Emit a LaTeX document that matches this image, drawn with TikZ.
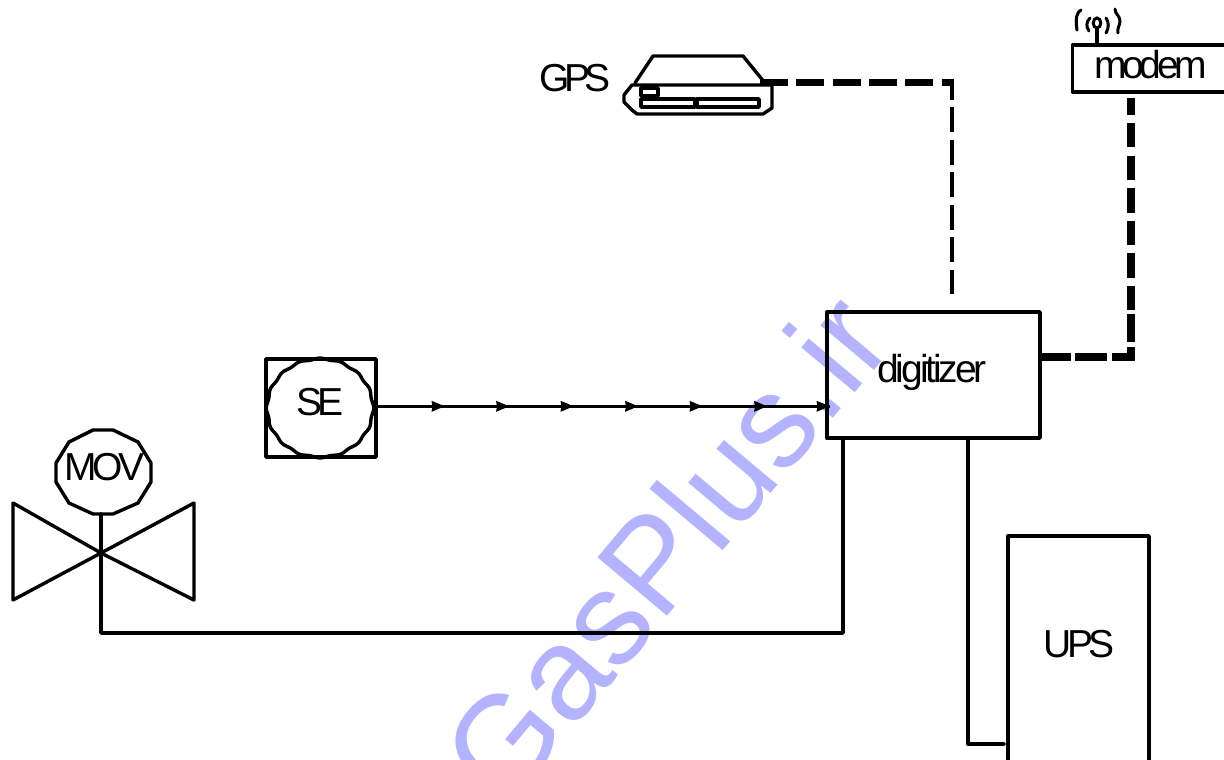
\documentclass[tikz,border=0pt]{standalone}
\usepackage{fontspec}
\setmainfont{Liberation Sans}
\newfontfamily\tightfont[LetterSpace=-11]{Liberation Sans}
\newfontfamily\digifont[LetterSpace=-8]{Liberation Sans}
\newfontfamily\gpsfont[LetterSpace=-14]{Liberation Sans}
\usetikzlibrary{arrows.meta,decorations.markings,shapes.geometric}
\definecolor{wm}{HTML}{B3B3FF}
\tikzset{
  every node/.style={inner sep=0pt,outer sep=0pt},
  lbl/.style={font=\tightfont\fontsize{39}{39}\selectfont},
  wire/.style={line width=3.4pt,line join=round,line cap=round},
  boxn/.style={draw,line width=3.4pt,rectangle,line join=round,fill=none},
  topdash/.style={line width=7pt,dash pattern=on 28pt off 8.3pt},
  thindash/.style={line width=3.4pt,dash pattern=on 25pt off 7.5pt,dash phase=8.5pt},
  rightdash/.style={line width=7.5pt,line join=miter,dash pattern=on 17pt off 8pt on 24pt off 9pt on 24pt off 8pt on 25pt off 8pt on 24pt off 8pt on 25pt off 8pt on 24pt off 4pt on 28pt off 5pt on 29pt off 5pt on 32pt off 4pt on 40pt off 10pt},
  flow/.style={line width=3.2pt,postaction={decorate},decoration={markings,
    mark=at position 69pt with {\arrow{tipk}},
    mark=at position 133.5pt with {\arrow{tipk}},
    mark=at position 198pt with {\arrow{tipk}},
    mark=at position 262.5pt with {\arrow{tipk}},
    mark=at position 327pt with {\arrow{tipk}},
    mark=at position 391.5pt with {\arrow{tipk}},
    mark=at position 454pt with {\arrow{tipk}}}},
  tipk/.tip={Stealth[length=13pt,width=10pt,inset=0.5pt]},
}
\begin{document}
\begin{tikzpicture}[x=1pt,y=-1pt]
\useasboundingbox (0,0) rectangle (1224,760);
\clip (0,0) rectangle (1224,760);
\fill[white] (0,0) rectangle (1224,760);
% watermark
\node[anchor=base west,rotate=50,text=wm,font=\fontsize{132}{132}\selectfont] (wmark) at (505,810) {GasPlus.ir};
% boxes
\node[boxn,minimum width=213pt,minimum height=126pt] (digi) at (933.5,375) {};
\node[lbl,font=\digifont\fontsize{39}{39}\selectfont] (digit) at (932,372) {digitizer};
\node[boxn,minimum width=141pt,minimum height=260pt] (ups) at (1078.5,666) {};
\node[lbl] (upst) at (1079,644) {UPS};
\node[boxn,minimum width=200pt,minimum height=47pt,anchor=north west] (modem) at (1072.5,45) {};
\node[lbl] (modemt) at (1150.5,65) {modem};
\node[lbl,font=\gpsfont\fontsize{39}{39}\selectfont] (gpst) at (575,78) {GPS};
% SE
\node[boxn,minimum width=110pt,minimum height=98pt] (sebox) at (321,408) {};
\draw[wire] plot[smooth,domain=0:360,samples=121] ({320+(53*(1+0.014*cos(16*\x)))*cos(\x)},{408+(49.3*(1+0.014*cos(16*\x)))*sin(\x)});
\node[lbl] (set) at (320,402) {SE};
% MOV
\draw[wire] (93,430) -- (113,430) -- (138,442) -- (151,463) -- (151,482) -- (138,503) -- (113,514) -- (93,514) -- (69,503) -- (56,482) -- (56,463) -- (69,442) -- cycle;
\node[lbl] (movt) at (104.5,467) {MOV};
% valve
\coordinate (vc) at (101,553);
\draw[wire] (vc) -- (13,503) -- (13,600) -- cycle;
\draw[wire] (vc) -- (194,503) -- (194,600) -- cycle;
% GPS server
\coordinate (gpsr) at (760,83);
\draw[wire] (635,83) -- (653,56) -- (743,56) -- (765,83);
\draw[wire] (632,85) -- (772,85) -- (772,108) -- (763,114) -- (637,114) -- (632,110) -- (624,102) -- (624,95) -- cycle;
\draw[wire] (641,88) rectangle (658,96);
\draw[wire] (641,99) rectangle (695,107);
\draw[wire] (697,99) rectangle (759,107);
% antenna
\coordinate (ant) at (1097,45);
\draw[wire] (ant) -- (1097,29);
\draw[line width=3pt] (1097,23) ellipse (3.8pt and 5pt);
\draw[line width=3pt,line cap=round] (1090,18) .. controls (1086,22) and (1086,27) .. (1089,31);
\draw[line width=3pt,line cap=round] (1106,18) .. controls (1109,22) and (1109,28) .. (1106,33);
\draw[line width=3pt,line cap=round] (1081,10) .. controls (1077,12) and (1075,18) .. (1077,30);
\draw[line width=3pt,line cap=round] (1115,9) .. controls (1115,14) and (1120,16) .. (1120,21) .. controls (1120,25) and (1117,28) .. (1118,33);
% connectors
\coordinate (gpsc) at (954,83);
\coordinate (gpsd) at (952,83);
\coordinate (digitop) at (952,294);
\draw[topdash] (gpsr) -- (gpsc);
\draw[thindash] (gpsd) -- (digitop);
\coordinate (modb) at (1131,98);
\coordinate (modc) at (1131,357);
\coordinate (digr) at (1041,357);
\draw[rightdash] (modb) -- (modc) -- (digr);
\coordinate (arrs) at (376,406.3);
\coordinate (arre) at (830,406.3);
\draw[flow] (arrs) -- (arre);
\coordinate (movb) at (101,514);
\coordinate (bend) at (101,633);
\coordinate (dig1) at (843,438);
\coordinate (bend2) at (843,633);
\draw[wire] (movb) -- (bend) -- (bend2) -- (dig1);
\coordinate (dig2) at (968,438);
\coordinate (upsb) at (968,744);
\coordinate (upsl) at (1004,744);
\draw[wire] (dig2) -- (upsb) -- (upsl);
\end{tikzpicture}
\end{document}
